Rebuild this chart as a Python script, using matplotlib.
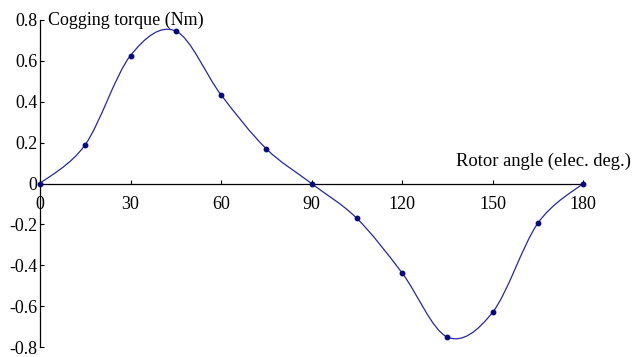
import matplotlib
matplotlib.use("Agg")
import matplotlib.pyplot as plt
from matplotlib.path import Path
from matplotlib.patches import PathPatch
import numpy as np

angles = [0, 15, 30, 45, 60, 75, 90, 105, 120, 135, 150, 165, 180]
torque = [0, 0.19, 0.626, 0.746, 0.434, 0.17, 0, -0.17, -0.437, -0.751, -0.631, -0.195, 0]
xticks = [0, 30, 60, 90, 120, 150, 180]
yticks = [-0.8, -0.6, -0.4, -0.2, 0, 0.2, 0.4, 0.6, 0.8]
ytick_labels = ["-0.8", "-0.6", "-0.4", "-0.2", "0", "0.2", "0.4", "0.6", "0.8"]

plt.rcParams['font.family'] = ['Liberation Serif', 'DejaVu Serif']

fig = plt.figure(figsize=(6.4, 3.57), dpi=100)
ax = fig.add_axes([40/640, 1-347/357, (583-40)/640, (347-20)/357])
ax.set_xlim(0, 180)
ax.set_ylim(-0.8, 0.8)

# smooth curve (Bezier, Catmull-Rom style control points)
P = np.column_stack([angles, torque]).astype(float)
n = len(P)
verts = [P[0]]
codes = [Path.MOVETO]
for i in range(n - 1):
    p0 = P[i - 1] if i > 0 else P[i]
    p1 = P[i]
    p2 = P[i + 1]
    p3 = P[i + 2] if i + 2 < n else P[i + 1]
    c1 = p1 + (p2 - p0) / 6.0
    c2 = p2 - (p3 - p1) / 6.0
    verts += [c1, c2, p2]
    codes += [Path.CURVE4] * 3
ax.add_patch(PathPatch(Path(verts, codes), facecolor='none', edgecolor='#2626a6', lw=0.9, zorder=3))
ax.plot(angles, torque, linestyle='none', marker='o', ms=3.2, color='#0a0a80', zorder=4, clip_on=False)

for s in ['top', 'right']:
    ax.spines[s].set_visible(False)
ax.spines['left'].set_position(('data', 0))
ax.spines['bottom'].set_position(('data', 0))
for s in ['left', 'bottom']:
    ax.spines[s].set_linewidth(0.9)
    ax.spines[s].set_color('black')

ax.set_xticks(xticks)
ax.set_xticklabels([str(t) for t in xticks])
ax.set_yticks(yticks)
ax.set_yticklabels(ytick_labels)
ax.tick_params(axis='x', direction='in', length=3, width=0.8, pad=9, labelsize=13)
ax.tick_params(axis='y', direction='in', length=3, width=0.8, pad=2, labelsize=13)

ax.text(2.6, 0.8, "Cogging torque (Nm)", ha='left', va='center', fontsize=13, clip_on=False)
ax.text(196, 0.107, "Rotor angle (elec. deg.)", ha='right', va='center', fontsize=13.3, clip_on=False)

fig.savefig("out.png", dpi=100)
